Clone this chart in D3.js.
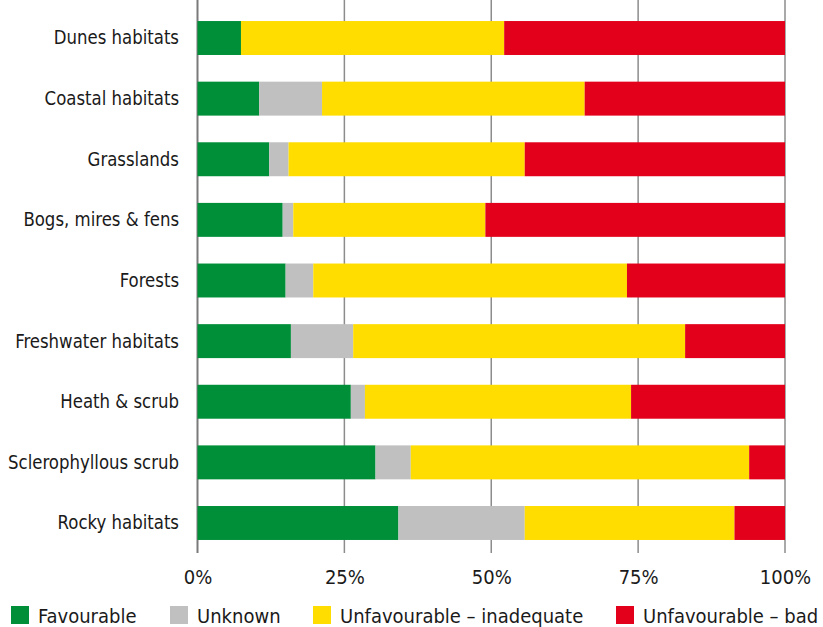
<!DOCTYPE html>
<html>
<head>
<meta charset="utf-8">
<script src="https://cdn.jsdelivr.net/npm/d3@7"></script>
<style>
  body { margin: 0; background: #fff; }
  svg text { font-family: "DejaVu Sans Condensed", "DejaVu Sans", sans-serif; font-stretch: condensed; fill: #1a1a1a; }
</style>
</head>
<body>
<svg></svg>
<script>
var categories = ["Dunes habitats", "Coastal habitats", "Grasslands", "Bogs, mires & fens", "Forests",
  "Freshwater habitats", "Heath & scrub", "Sclerophyllous scrub", "Rocky habitats"];
var seriesNames = ["Favourable", "Unknown", "Unfavourable – inadequate", "Unfavourable – bad"];
var favourable = [7.4, 10.5, 12.2, 14.5, 15.0, 15.9, 26.1, 30.3, 34.2];
var unknown = [0, 10.7, 3.3, 1.8, 4.7, 10.6, 2.4, 6.0, 21.5];
var inadequate = [44.8, 44.7, 40.2, 32.7, 53.4, 56.5, 45.3, 57.6, 35.7];
var bad = [47.8, 34.1, 44.3, 51.0, 26.9, 17.0, 26.2, 6.1, 8.6];
var colors = ["#008f39", "#c0c0c0", "#ffdd00", "#e2001a"];
var tickValues = [0, 25, 50, 75, 100];

var svg = d3.select("svg"),
  width = 823,
  height = 627,
  margins = {top: 21, right: 38, bottom: 87, left: 197.5};

svg.attr("width", width).attr("height", height);

// squeeze text a bit, the original face is narrower still
function condense(sel, k) {
  sel.each(function() {
    var w = this.getComputedTextLength();
    d3.select(this).attr("textLength", w * k).attr("lengthAdjust", "spacingAndGlyphs");
  });
}

var rows = categories.map(function(c, i) {
  return {cat: c, s0: favourable[i], s1: unknown[i], s2: inadequate[i], s3: bad[i]};
});
var keys = ["s0", "s1", "s2", "s3"];
var stacked = d3.stack().keys(keys)(rows);

var x = d3.scaleLinear()
  .domain([0, 100])
  .range([margins.left, width - margins.right]);

var y = d3.scaleBand()
  .domain(categories)
  .range([margins.top - 13.3, height - margins.bottom + 13.3])
  .paddingInner(0.44)
  .paddingOuter(0.22);

// gridlines behind bars, they also act as ticks below the bars
svg.append("g")
  .selectAll("line")
  .data(tickValues)
  .enter().append("line")
  .attr("x1", function(d) { return x(d); })
  .attr("x2", function(d) { return x(d); })
  .attr("y1", 0)
  .attr("y2", 553)
  .attr("stroke", function(d) { return d === 0 ? "#7a7a7a" : "#8c8c8c"; })
  .attr("stroke-width", function(d) { return d === 0 ? 2 : 1.5; });

svg.append("g")
  .selectAll("g")
  .data(stacked)
  .enter().append("g")
  .attr("fill", function(d, i) { return colors[i]; })
  .selectAll("rect")
  .data(function(d) { return d; })
  .enter().append("rect")
  .attr("x", function(d) { return x(d[0]); })
  .attr("width", function(d) { return x(d[1]) - x(d[0]); })
  .attr("y", function(d) { return y(d.data.cat); })
  .attr("height", y.bandwidth());

// x tick labels
var xAxis = svg.append("g")
  .attr("transform", "translate(0,553)")
  .call(d3.axisBottom(x).tickValues(tickValues).tickSize(0).tickPadding(17)
    .tickFormat(function(d) { return d + "%"; }));
xAxis.select(".domain").remove();
xAxis.selectAll("text").attr("font-size", 20).attr("dy", "0.71em");

// category labels
var yAxis = svg.append("g")
  .attr("transform", "translate(" + (margins.left - 18.5) + ",0)")
  .call(d3.axisLeft(y).tickSize(0).tickPadding(0));
yAxis.select(".domain").remove();
yAxis.selectAll("text").attr("font-size", 20).call(condense, 0.92);

// legend
var legendX = [11, 170, 313, 616];
var legend = svg.append("g")
  .selectAll("g")
  .data(seriesNames)
  .enter().append("g")
  .attr("transform", function(d, i) { return "translate(" + legendX[i] + ",606)"; });
legend.append("rect")
  .attr("width", 18)
  .attr("height", 18)
  .attr("fill", function(d, i) { return colors[i]; });
legend.append("text")
  .attr("x", 27)
  .attr("y", 10)
  .attr("dy", "0.35em")
  .attr("font-size", 20)
  .text(function(d) { return d; });
</script>
</body>
</html>
